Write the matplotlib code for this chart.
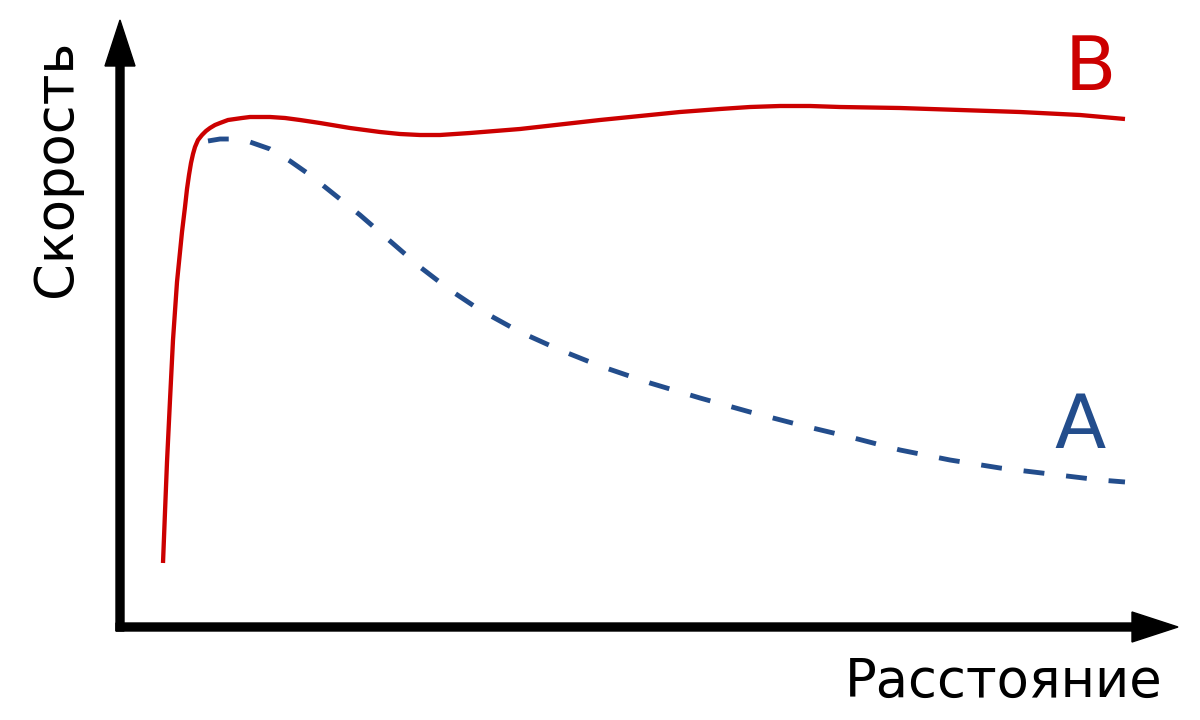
import matplotlib.pyplot as plt

# Curve B (solid red) - distance, speed
b_dist = [43, 45, 47, 50, 53, 57, 62, 65, 67, 69, 71, 73, 75, 78, 82, 86, 90, 95, 100, 108,
          115, 122, 130, 140, 150, 165, 180, 200, 230, 260, 280, 300, 320, 350, 400, 480,
          560, 600, 630, 660, 690, 720, 780, 840, 900, 960, 1005]
b_speed = [64, 115, 165, 227, 287, 345, 395, 420, 438, 452, 464, 473, 480, 487, 492, 496,
           499, 502, 504, 507, 508, 509, 510, 510, 510, 509, 507, 504, 499, 495, 493, 492,
           492, 494, 498, 507, 515, 518, 520, 521, 521, 520, 519, 517, 515, 512, 508]

# Curve A (dashed blue)
a_dist = [88, 100, 115, 130, 150, 170, 190, 210, 240, 270, 300, 330, 360, 400, 440, 480,
          530, 580, 630, 680, 730, 780, 830, 880, 930, 980, 1005]
a_speed = [486, 488, 488, 485, 478, 466, 452, 436, 412, 386, 360, 337, 317, 295, 277, 261,
           244, 229, 215, 202, 190, 177, 167, 159, 153, 147, 145]

plt.rcParams['font.family'] = 'DejaVu Sans'

fig = plt.figure(figsize=(12, 7.2), dpi=100)
ax = fig.add_axes([0, 0, 1, 1])
ax.set_xlim(-120, 1080)
ax.set_ylim(-93, 627)
ax.axis('off')

# axes with arrows
ax.arrow(0, -4, 0, 611, width=8, head_width=30, head_length=46,
         length_includes_head=True, color='black', zorder=3)
ax.arrow(-4, 0, 1062, 0, width=8, head_width=30, head_length=46,
         length_includes_head=True, color='black', zorder=3)

ax.plot(b_dist, b_speed, color='#cc0000', lw=3.1, solid_capstyle='butt',
        solid_joinstyle='round')
ax.plot(a_dist, a_speed, color='#234d8c', lw=3.5, dashes=(4.3, 4.5))

ax.text(970, 557, 'B', color='#cc0000', fontsize=54, ha='center', va='center')
ax.text(960, 199, 'A', color='#234d8c', fontsize=54, ha='center', va='center')
ax.text(1043, -55, 'Расстояние', fontsize=38, ha='right', va='center')
ax.text(-64, 459, 'Скорость', fontsize=38, rotation=90, ha='center', va='center')

fig.savefig('out.png', dpi=100)
